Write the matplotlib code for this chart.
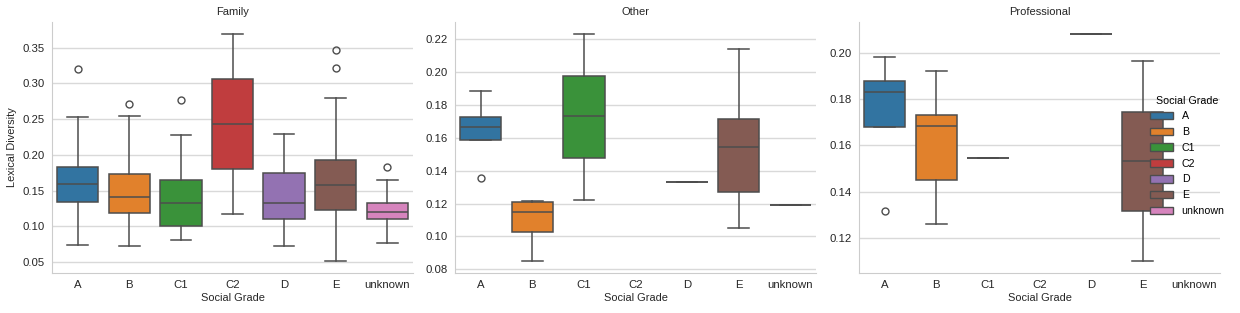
import matplotlib.pyplot as plt
from matplotlib.patches import Patch

plt.rcParams['font.family'] = ['Liberation Sans', 'DejaVu Sans']

grades = ['A', 'B', 'C1', 'C2', 'D', 'E', 'unknown']
colors = ['#3274a1', '#e1812c', '#3a923a', '#c03d3e', '#9372b2', '#845b53', '#d684bd']
panels = ['Family', 'Other', 'Professional']

# (whisker low, q1, median, q3, whisker high) per grade, None = no data
family_stats = [(0.0741, 0.1347, 0.1594, 0.1836, 0.2526),
                (0.0727, 0.1184, 0.1412, 0.1734, 0.2540),
                (0.0811, 0.0998, 0.1324, 0.1645, 0.2284),
                (0.1179, 0.1804, 0.2438, 0.3067, 0.3696),
                (0.0727, 0.1109, 0.1324, 0.1743, 0.2293),
                (0.0517, 0.1226, 0.1580, 0.1934, 0.2796),
                (0.0760, 0.1100, 0.1198, 0.1324, 0.1654)]
family_fliers = [[0.320], [0.2708], [0.2773], [], [], [0.3467, 0.322], [0.1827]]

other_stats = [(0.1588, 0.1588, 0.1667, 0.1724, 0.1884),
               (0.0850, 0.1027, 0.1146, 0.1209, 0.1217),
               (0.1223, 0.1479, 0.1730, 0.1977, 0.2232),
               None,
               (0.1331, 0.1331, 0.1331, 0.1331, 0.1331),
               (0.1053, 0.1272, 0.1546, 0.1716, 0.2139),
               (0.1191, 0.1191, 0.1191, 0.1191, 0.1191)]
other_fliers = [[0.1353], [], [], [], [], [], []]

prof_stats = [(0.1681, 0.1681, 0.1832, 0.1878, 0.1981),
              (0.1262, 0.1451, 0.1685, 0.1733, 0.1922),
              (0.1546, 0.1546, 0.1546, 0.1546, 0.1546),
              None,
              (0.2082, 0.2082, 0.2082, 0.2082, 0.2082),
              (0.1102, 0.1316, 0.1533, 0.1746, 0.1964),
              None]
prof_fliers = [[0.1316], [], [], [], [], [], []]

all_stats = [family_stats, other_stats, prof_stats]
all_fliers = [family_fliers, other_fliers, prof_fliers]
ylims = [(0.0346, 0.386), (0.0778, 0.2303), (0.105, 0.2132)]
yticks = [[0.05, 0.10, 0.15, 0.20, 0.25, 0.30, 0.35],
          [0.08, 0.10, 0.12, 0.14, 0.16, 0.18, 0.20, 0.22],
          [0.12, 0.14, 0.16, 0.18, 0.20]]

W, H = 1240, 313
fig = plt.figure(figsize=(W / 100, H / 100), dpi=100)
lefts = [52, 455, 859]
line_c = '#4d4d4d'
fs = 8.2

for i, name in enumerate(panels):
    ax = fig.add_axes([lefts[i] / W, (H - 273) / H, 361 / W, 251 / H])
    stats, pos, cols = [], [], []
    for j, s in enumerate(all_stats[i]):
        if s is None:
            continue
        stats.append(dict(whislo=s[0], q1=s[1], med=s[2], q3=s[3], whishi=s[4],
                          fliers=all_fliers[i][j]))
        pos.append(j)
        cols.append(colors[j])
    bp = ax.bxp(stats, positions=pos, widths=0.8, capwidths=0.4, patch_artist=True,
                boxprops=dict(edgecolor=line_c, linewidth=1.1),
                whiskerprops=dict(color=line_c, linewidth=1.1),
                capprops=dict(color=line_c, linewidth=1.1),
                medianprops=dict(color=line_c, linewidth=1.1),
                flierprops=dict(marker='o', markerfacecolor='none', markeredgecolor=line_c,
                                markersize=5, markeredgewidth=1.0))
    for patch, c in zip(bp['boxes'], cols):
        patch.set_facecolor(c)
    ax.set_xlim(-0.5, 6.5)
    ax.set_ylim(*ylims[i])
    ax.set_xticks(range(len(grades)))
    ax.set_xticklabels(grades)
    ax.set_yticks(yticks[i])
    ax.set_yticklabels(['%.2f' % t for t in yticks[i]])
    ax.tick_params(length=0, labelsize=fs, colors='#262626', pad=5)
    ax.yaxis.grid(True, color='#d9d9d9', linewidth=1)
    ax.set_axisbelow(True)
    for sp in ['top', 'right']:
        ax.spines[sp].set_visible(False)
    for sp in ['left', 'bottom']:
        ax.spines[sp].set_color('#cccccc')
    ax.set_title(name, fontsize=8, color='#262626', pad=5)
    ax.set_xlabel('Social Grade', fontsize=7.9, color='#262626', labelpad=2)
    if i == 0:
        ax.set_ylabel('Lexical Diversity', fontsize=7.9, color='#262626')

handles = [Patch(facecolor=c, edgecolor=line_c, linewidth=1.0) for c in colors]
leg = fig.legend(handles, grades, title='Social Grade', loc='upper left',
                 bbox_to_anchor=(1140 / W, 1 - 86 / H), frameon=False,
                 fontsize=7.7, title_fontsize=7.7, labelspacing=0.54,
                 handlelength=2.2, handletextpad=0.8)

fig.savefig('out.png', dpi=100)
